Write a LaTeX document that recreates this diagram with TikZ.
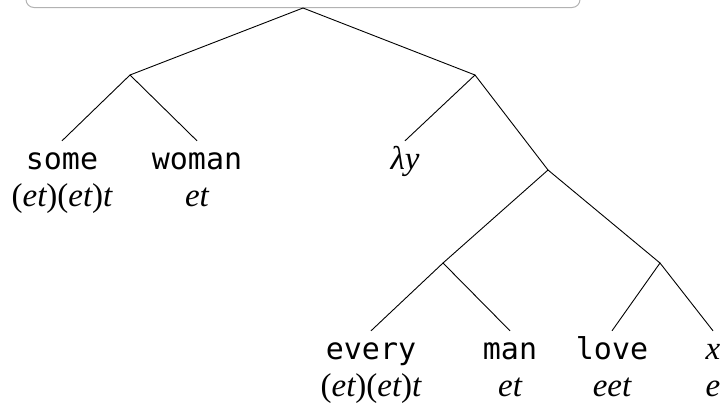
\documentclass[tikz,border=0pt]{standalone}
\usepackage{fontspec}
\setmonofont{DejaVu Sans Mono}
\newfontfamily\semfont{Liberation Serif}
\newcommand{\ty}[1]{{\semfont\itshape #1}}
\usetikzlibrary{positioning}

\begin{document}
\begin{tikzpicture}[x=1pt,y=-1pt,
    edge/.style={black, line width=.9pt},
    word/.style={font=\ttfamily\fontsize{30}{36}\selectfont, anchor=base, inner sep=0pt, text height=28pt, text depth=8pt},
    sem/.style={font=\semfont\fontsize{33}{36}\selectfont, anchor=base, inner sep=0pt}]
  \useasboundingbox (0,0) rectangle (722,402);
  \clip (0,0) rectangle (722,402);
  % cut-off box on top
  \node [draw=gray!60, line width=1pt, rounded corners=8pt, minimum width=554pt, minimum height=40pt, anchor=south] (root) at (303,8) {};

  \coordinate (l) at (130,75);
  \coordinate (r) at (475,75);
  \coordinate (rr) at (548,170);
  \coordinate (rrl) at (443,263);
  \coordinate (rrr) at (660,263);

  \node [word] (some) at (62,169) {some};
  \node [sem] (some-t) at (62,206) {(\ty{et})(\ty{et})\ty{t}};
  \node [word] (woman) at (197,169) {woman};
  \node [sem] (woman-t) at (197,206) {\ty{et}};
  \node [word, font=\semfont\fontsize{33}{36}\selectfont] (lam) at (405,169) {\ty{λy}};

  \node [word] (every) at (371,359) {every};
  \node [sem] (every-t) at (371,396) {(\ty{et})(\ty{et})\ty{t}};
  \node [word] (man) at (510,359) {man};
  \node [sem] (man-t) at (510,396) {\ty{et}};
  \node [word] (love) at (612,359) {love};
  \node [sem] (love-t) at (612,396) {\ty{eet}};
  \node [word, font=\semfont\fontsize{33}{36}\selectfont] (x) at (713,359) {\ty{x}};
  \node [sem] (x-t) at (713,396) {\ty{e}};

  \draw [edge] (l) -- (root.south) -- (r);
  \draw [edge] (some.north) -- (l) -- (woman.north);
  \draw [edge] (lam.north) -- (r) -- (rr);
  \draw [edge] (rrl) -- (rr) -- (rrr);
  \draw [edge] (every.north) -- (rrl) -- (man.north);
  \draw [edge] (love.north) -- (rrr) -- (x.north);
\end{tikzpicture}
\end{document}
